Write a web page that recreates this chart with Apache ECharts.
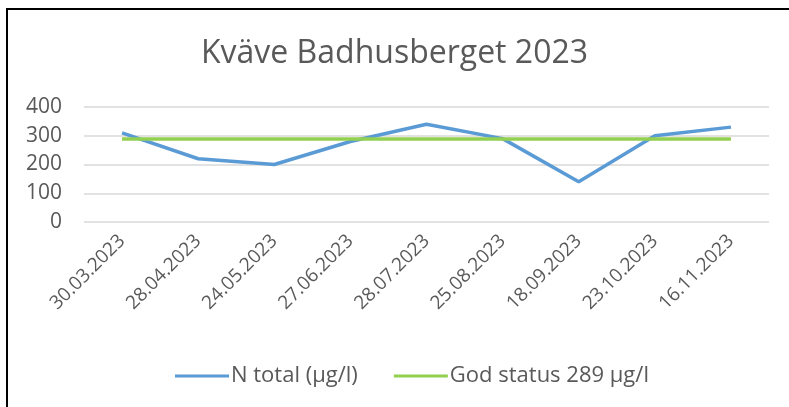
<!DOCTYPE html>
<html>
<head>
<meta charset="utf-8">
<script src="https://cdn.jsdelivr.net/npm/echarts@6/dist/echarts.min.js"></script>
</head>
<body style="margin:0;background:#fff;">

<div id="main" style="width: 789px;height:407px;"></div>

<script type="text/javascript">
    var dates = ['30.03.2023', '28.04.2023', '24.05.2023', '27.06.2023', '28.07.2023',
                 '25.08.2023', '18.09.2023', '23.10.2023', '16.11.2023'];
    var nTotal = [310, 220, 200, 280, 340, 290, 140, 300, 330];
    var godStatus = [289, 289, 289, 289, 289, 289, 289, 289, 289];

    var txt = '#595959';
    var font = 'Open Sans';

    var myChart = echarts.init(document.getElementById('main'));

    var option = {
        backgroundColor: '#fff',
        animation: false,
        title: {
            text: 'Kväve Badhusberget 2023',
            left: 'center',
            top: 33,
            textStyle: {color: txt, fontSize: 32, fontWeight: 'normal', fontFamily: font}
        },
        graphic: [{
            type: 'rect',
            shape: {x: 7, y: 9, width: 800, height: 420},
            style: {fill: 'none', stroke: '#000', lineWidth: 2}
        }],
        legend: {
            top: 360,
            left: 170,
            itemWidth: 54,
            itemHeight: 3,
            itemGap: 36,
            icon: 'rect',
            textStyle: {color: txt, fontSize: 22, fontFamily: font, padding: [0, 0, 0, -3]},
            data: ['N total (µg/l)', 'God status 289 µg/l']
        },
        grid: {left: 84, right: 20, top: 107, bottom: 185},
        xAxis: {
            type: 'category',
            data: dates,
            boundaryGap: true,
            axisLine: {show: false},
            axisTick: {show: false},
            axisLabel: {color: txt, fontSize: 19, fontFamily: font, rotate: 45, margin: 16}
        },
        yAxis: {
            type: 'value',
            min: 0,
            max: 400,
            interval: 100,
            axisLine: {show: false},
            axisTick: {show: false},
            axisLabel: {color: txt, fontSize: 21, fontFamily: font, margin: 22},
            splitLine: {lineStyle: {color: '#d9d9d9', width: 1.5}}
        },
        series: [
            {
                name: 'N total (µg/l)',
                type: 'line',
                data: nTotal,
                symbol: 'none',
                itemStyle: {color: '#5b9bd5'},
                lineStyle: {color: '#5b9bd5', width: 3.5}
            },
            {
                name: 'God status 289 µg/l',
                type: 'line',
                data: godStatus,
                symbol: 'none',
                itemStyle: {color: '#92d050'},
                lineStyle: {color: '#92d050', width: 3.5}
            }
        ]
    };

    myChart.setOption(option);
</script>
</body>
</html>
